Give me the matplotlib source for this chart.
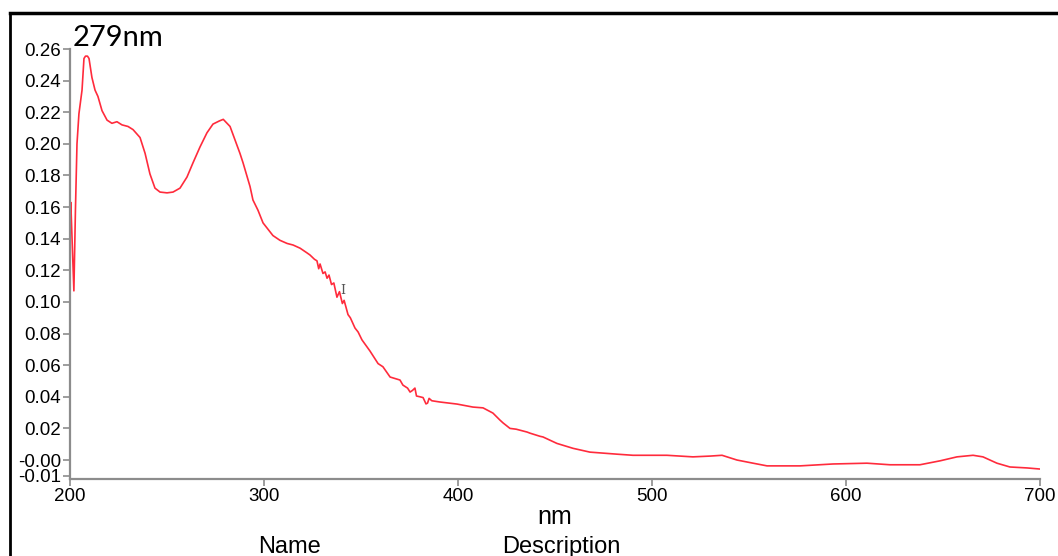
import matplotlib
matplotlib.use("Agg")
import matplotlib.pyplot as plt
from matplotlib.lines import Line2D

# Data
wavelength_nm = [
    200.0, 200.4, 202.0, 202.8, 203.6, 204.6, 206.2, 207.2, 208.0, 209.0, 209.8,
    211.3, 212.9, 214.4, 216.5, 219.1, 221.6, 224.2, 226.8, 229.9, 232.5, 236.1,
    238.7, 241.2, 243.8, 246.4, 250.0, 253.1, 256.7, 260.3, 263.4, 267.0, 270.6,
    273.7, 277.0, 279.0, 282.5, 287.6, 289.2, 292.8, 294.3, 296.9, 299.5, 304.6,
    308.2, 311.9, 315.0, 318.6, 322.2, 323.7, 326.0, 327.3, 328.2, 328.9, 330.4,
    331.5, 332.5, 333.5, 334.8, 336.0, 337.6, 338.9, 340.4, 341.3, 343.3, 344.5,
    346.9, 348.5, 350.5, 354.6, 358.8, 361.3, 365.0, 370.1, 371.6, 374.0, 375.3,
    376.5, 377.8, 378.6, 380.4, 382.0, 383.5, 384.3, 385.1, 386.5, 390.7, 399.5,
    407.7, 412.9, 418.0, 421.6, 423.2, 426.8, 430.0, 435.6, 437.1, 442.3, 443.8,
    451.0, 459.3, 468.0, 482.0, 490.2, 507.7, 521.1, 530.0, 536.1, 543.8, 552.1,
    559.3, 576.3, 593.3, 610.8, 622.7, 638.1, 648.5, 657.2, 665.5, 670.6, 677.8,
    684.5, 693.3, 700.0,
]
absorbance = [
    0.152, 0.163, 0.107, 0.158, 0.200, 0.219, 0.234, 0.254, 0.2555, 0.2555, 0.254,
    0.242, 0.234, 0.230, 0.221, 0.215, 0.213, 0.214, 0.212, 0.211, 0.209, 0.204,
    0.194, 0.181, 0.172, 0.1695, 0.169, 0.1695, 0.172, 0.179, 0.188, 0.198, 0.207,
    0.2125, 0.2145, 0.2155, 0.211, 0.194, 0.188, 0.173, 0.1645, 0.158, 0.150, 0.142,
    0.139, 0.137, 0.136, 0.134, 0.131, 0.1297, 0.127, 0.126, 0.121, 0.124, 0.118,
    0.119, 0.115, 0.117, 0.111, 0.112, 0.103, 0.1065, 0.099, 0.101, 0.092, 0.090,
    0.0835, 0.081, 0.076, 0.069, 0.061, 0.059, 0.0525, 0.0506, 0.0474, 0.0455, 0.043,
    0.044, 0.0455, 0.0405, 0.040, 0.0395, 0.0355, 0.036, 0.039, 0.0375, 0.0367, 0.0354,
    0.0335, 0.033, 0.0297, 0.0253, 0.0235, 0.020, 0.0195, 0.0177, 0.017, 0.015, 0.0146,
    0.0105, 0.0074, 0.005, 0.0037, 0.003, 0.003, 0.002, 0.0025, 0.003, 0.0, -0.002,
    -0.0037, -0.0037, -0.0025, -0.002, -0.003, -0.003, -0.0005, 0.002, 0.003, 0.002, -0.002,
    -0.0044, -0.005, -0.0057,
]

x_ticks = [200, 300, 400, 500, 600, 700]
y_ticks = [-0.01, 0.00, 0.02, 0.04, 0.06, 0.08, 0.10, 0.12, 0.14, 0.16, 0.18,
           0.20, 0.22, 0.24, 0.26]
y_tick_labels = ["-0.01", "-0.00", "0.02", "0.04", "0.06", "0.08", "0.10", "0.12",
                 "0.14", "0.16", "0.18", "0.20", "0.22", "0.24", "0.26"]
peak_label = "279nm"
cursor_pos = (340.8, 0.107)

plt.rcParams['font.family'] = ['Liberation Sans', 'DejaVu Sans']

W, H = 1058, 556
fig = plt.figure(figsize=(W / 100, H / 100), dpi=100)
ax = fig.add_axes([70 / W, 1 - 479 / H, (1040 - 70) / W, (479 - 49) / H])

ax.plot(wavelength_nm, absorbance, color='#ff2b3c', lw=1.2, solid_joinstyle='round')

ax.set_xlim(200, 700)
ax.set_ylim(-0.012, 0.26)
ax.set_xticks(x_ticks)
ax.set_xticklabels([str(t) for t in x_ticks])
ax.set_yticks(y_ticks)
ax.set_yticklabels(y_tick_labels)

for s in ['top', 'right']:
    ax.spines[s].set_visible(False)
for s in ['left', 'bottom']:
    ax.spines[s].set_color('#8c8c8c')
    ax.spines[s].set_linewidth(1.6)
ax.tick_params(axis='both', colors='#8c8c8c', labelcolor='black', length=5,
               width=1.2, labelsize=13.5, pad=1.5)

ax.set_xlabel('nm', fontsize=18, labelpad=0)

# cursor glyph
ax.text(cursor_pos[0], cursor_pos[1], 'I', color='#555555', fontsize=9,
        family='DejaVu Serif', ha='center', va='center')

# peak annotation text
fig.text(73 / W, 1 - 38 / H, peak_label, fontsize=21, family='Lato',
         ha='left', va='center')

# bottom table header (cut off by figure edge)
fig.text(289 / W, 1 - 547 / H, 'Name', fontsize=17, ha='center', va='center')
fig.text(561 / W, 1 - 547 / H, 'Description', fontsize=17, ha='center', va='center')

# outer frame
fig.add_artist(Line2D([10 / W, 1.0], [1 - 13 / H, 1 - 13 / H], color='black', lw=2.5,
                      transform=fig.transFigure))
fig.add_artist(Line2D([10 / W, 10 / W], [0, 1 - 13 / H], color='black', lw=2.0,
                      transform=fig.transFigure))

fig.savefig('out.png', dpi=100)
